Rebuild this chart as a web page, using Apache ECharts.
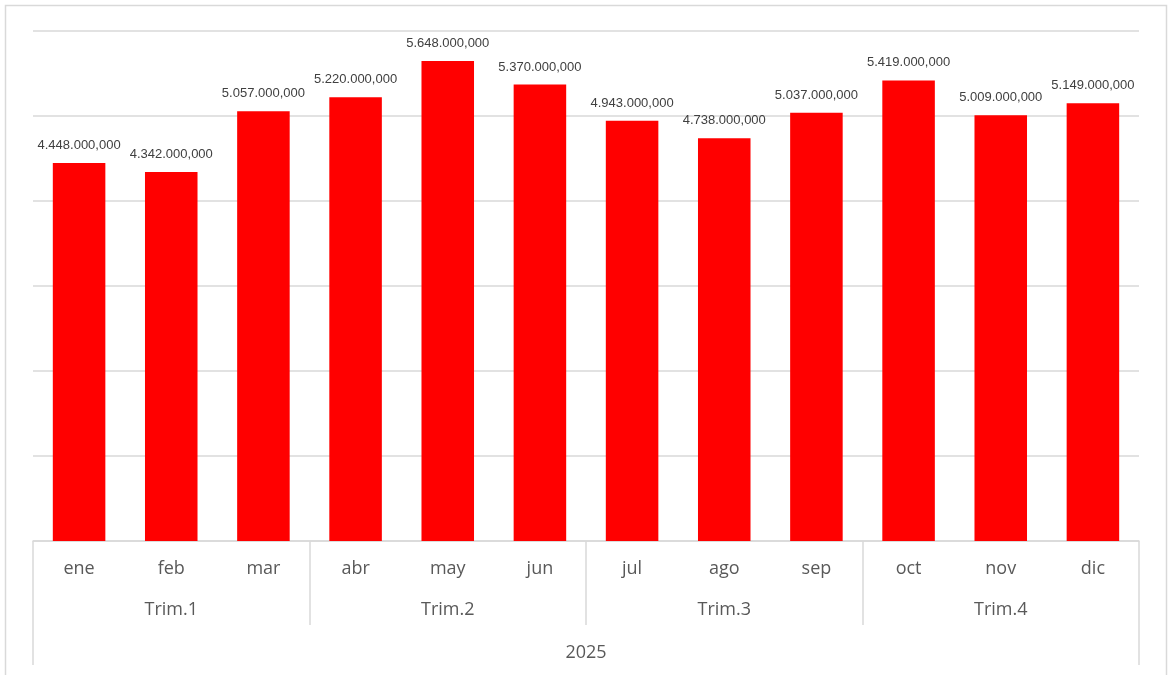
<!DOCTYPE html>
<html>
<head>
<meta charset="utf-8">
<script src="https://cdn.jsdelivr.net/npm/echarts@6/dist/echarts.min.js"></script>
<style>html,body{margin:0;padding:0;background:#fff}#c{width:1170px;height:675px}</style>
</head>
<body>
<div id="c"></div>
<script>
const months = ['ene','feb','mar','abr','may','jun','jul','ago','sep','oct','nov','dic'];
const quarters = ['Trim.1','Trim.2','Trim.3','Trim.4'];
const years = ['2025'];
const values = [4448000000,4342000000,5057000000,5220000000,5648000000,5370000000,4943000000,4738000000,5037000000,5419000000,5009000000,5149000000];
const yMin = 0, yMax = 6000000000, yStep = 1000000000;

function fmt(v){
  const parts = Number(v).toLocaleString('en-US').split(',');
  if (parts.length < 2) return parts[0];
  return parts.slice(0,-1).join('.') + ',' + parts[parts.length-1];
}
const font = '"Open Sans", "Liberation Sans", sans-serif';
const lblFont = '"Liberation Sans", Arial, sans-serif';
const chart = echarts.init(document.getElementById('c'), null, {renderer:'canvas'});
chart.setOption({
  animation:false,
  backgroundColor:'#fff',
  graphic:[{type:'rect', shape:{x:5.5,y:5.5,width:1161,height:720}, style:{fill:'none',stroke:'#d9d9d9',lineWidth:1.5}, silent:true}],
  grid:{left:33,right:31,top:31,bottom:134},
  xAxis:[
    {type:'category', data:months, position:'bottom',
     axisLine:{show:true,lineStyle:{color:'#d9d9d9',width:1.5}},
     axisTick:{show:false},
     axisLabel:{color:'#595959',fontSize:18,fontFamily:font,margin:19}},
    {type:'category', data:quarters, position:'bottom', offset:0,
     axisLine:{show:false},
     axisTick:{show:true,length:84,alignWithLabel:false,lineStyle:{color:'#d9d9d9',width:1.5}},
     axisLabel:{color:'#595959',fontSize:18,fontFamily:font,margin:60}},
    {type:'category', data:years, position:'bottom', offset:0,
     axisLine:{show:false},
     axisTick:{show:true,length:124,alignWithLabel:false,lineStyle:{color:'#d9d9d9',width:1.5}},
     axisLabel:{color:'#595959',fontSize:18,fontFamily:font,margin:103}}
  ],
  yAxis:{type:'value', min:yMin, max:yMax, interval:yStep,
    axisLabel:{show:false}, axisLine:{show:false}, axisTick:{show:false},
    splitLine:{lineStyle:{color:'#d9d9d9',width:1.5}}},
  series:[{type:'bar', xAxisIndex:0, data:values, barCategoryGap:'43%',
    itemStyle:{color:'#ff0000'},
    label:{show:true, position:'top', distance:11, color:'#404040', fontSize:13, fontFamily:lblFont,
      formatter:p=>fmt(p.value)}}]
});
</script>
</body>
</html>
